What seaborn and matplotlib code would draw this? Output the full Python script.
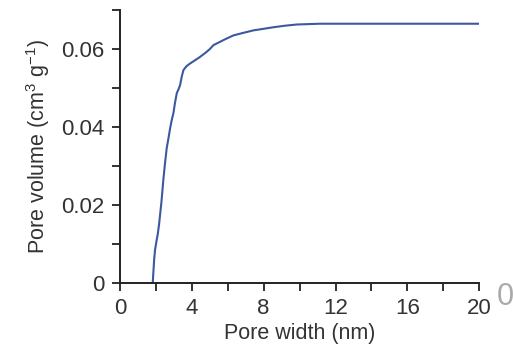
import matplotlib
matplotlib.use('Agg')
import matplotlib.pyplot as plt
import seaborn as sns
import pandas as pd
from matplotlib.ticker import MultipleLocator

# cumulative pore volume
pore_width = [1.82, 1.90, 1.95, 2.04, 2.10, 2.17, 2.30, 2.41, 2.50, 2.60, 2.70, 2.79,
              2.88, 2.97, 3.06, 3.16, 3.25, 3.34, 3.44, 3.53, 3.70, 3.90, 4.20,
              4.46, 4.80, 5.00, 5.20, 5.80, 6.31, 6.90, 7.43, 8.00, 8.54, 9.20,
              9.84, 11.1, 14.0, 17.0, 20.0]
pore_volume = [0.0, 0.0060, 0.0085, 0.0110, 0.0125, 0.0149, 0.0205, 0.0264, 0.0305,
               0.0346, 0.0372, 0.0397, 0.0418, 0.0435, 0.0462, 0.0487, 0.0496, 0.0507,
               0.0530, 0.0546, 0.0556, 0.0563, 0.0572, 0.0580, 0.0592, 0.0600, 0.0610,
               0.0624, 0.0635, 0.0642, 0.0648, 0.0652, 0.0656, 0.0660, 0.0663, 0.0665,
               0.0665, 0.0665, 0.0665]

x_ticks = [0, 4, 8, 12, 16, 20]
y_ticks = [0, 0.02, 0.04, 0.06]
y_tick_labels = ['0', '0.02', '0.04', '0.06']

df = pd.DataFrame({'width': pore_width, 'volume': pore_volume})

sns.set_style('ticks')
plt.rcParams['font.family'] = ['Liberation Sans', 'DejaVu Sans']
plt.rcParams['mathtext.fontset'] = 'custom'
plt.rcParams['mathtext.rm'] = 'Liberation Sans'
plt.rcParams['mathtext.default'] = 'regular'

fig = plt.figure(figsize=(5.13, 3.48), dpi=100)
ax = fig.add_axes([0.234, 0.187, 0.700, 0.784])

sns.lineplot(data=df, x='width', y='volume', ax=ax, color='#3b58a0',
             linewidth=1.5, estimator=None, sort=False)

ax.set_xlim(0, 20)
ax.set_ylim(0, 0.07)
ax.set_xticks(x_ticks)
ax.set_yticks(y_ticks)
ax.set_yticklabels(y_tick_labels)
ax.xaxis.set_minor_locator(MultipleLocator(2))
ax.yaxis.set_minor_locator(MultipleLocator(0.01))
ax.tick_params(which='both', direction='out', length=6, width=1.3, colors='#222222',
               labelsize=16, labelcolor='#333333', pad=5)
for s in ['left', 'bottom']:
    ax.spines[s].set_linewidth(1.4)
    ax.spines[s].set_color('#222222')
sns.despine(ax=ax)

ax.set_xlabel('Pore width (nm)', fontsize=15.5, color='#333333', labelpad=3)
ax.set_ylabel('Pore volume (cm$^3$ g$^{-1}$)', fontsize=15.5, color='#333333', labelpad=7)

# stray clipped digit at the right edge of the source image
fig.text(0.968, 1 - 305 / 348, '0', fontsize=22, color='#aaaaaa', ha='left', va='baseline')

fig.savefig('out.png', dpi=100)
